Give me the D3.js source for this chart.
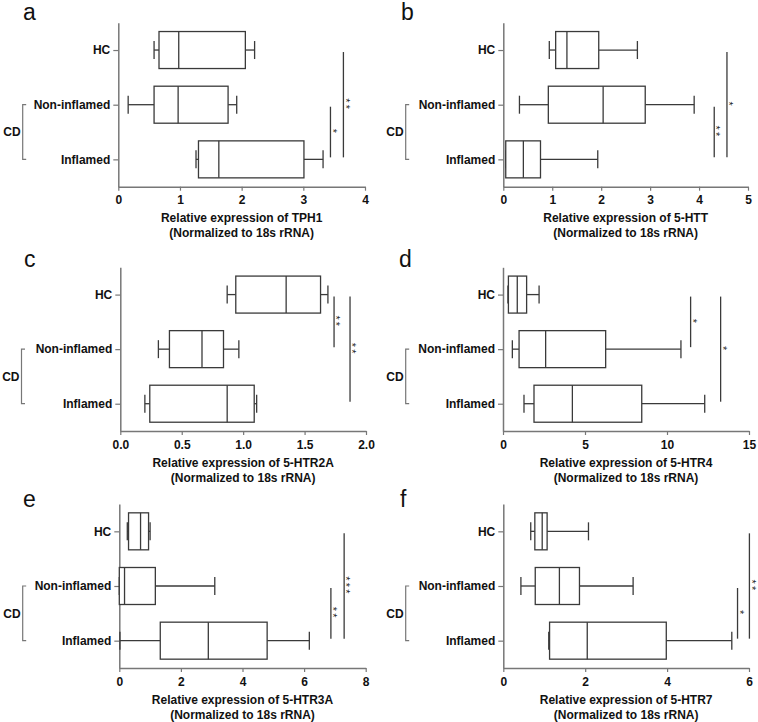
<!DOCTYPE html>
<html>
<head>
<meta charset="utf-8">
<script src="https://cdn.jsdelivr.net/npm/d3@7"></script>
<style>
  html, body { margin: 0; padding: 0; background: #fff; }
  svg { display: block; font-family: "Liberation Sans", Arial, sans-serif; }
</style>
</head>
<body>
<script>
// ---------------- DATA ----------------
const categories = ["HC", "Non-inflamed", "Inflamed"];
const panelLetters = ["a", "b", "c", "d", "e", "f"];
const genes = ["TPH1", "5-HTT", "5-HTR2A", "5-HTR4", "5-HTR3A", "5-HTR7"];
const xMax = [4, 5, 2, 15, 8, 6];
const xTickValues = [
  [0, 1, 2, 3, 4],
  [0, 1, 2, 3, 4, 5],
  [0, 0.5, 1.0, 1.5, 2.0],
  [0, 5, 10, 15],
  [0, 2, 4, 6, 8],
  [0, 2, 4, 6]
];
const xTickFormats = ["d", "d", ".1f", "d", "d", "d"];

// box stats per group: [min, Q1, median, Q3, max]  (HC, Non-inflamed, Inflamed)
const statsTPH1   = [[0.58, 0.66, 0.98, 2.06, 2.21], [0.16, 0.58, 0.97, 1.78, 1.92], [1.26, 1.30, 1.63, 3.01, 3.32]];
const statsHTT    = [[0.94, 1.07, 1.30, 1.95, 2.74], [0.33, 0.92, 2.04, 2.90, 3.90], [0.05, 0.05, 0.41, 0.76, 1.93]];
const statsHTR2A  = [[0.87, 0.94, 1.35, 1.63, 1.69], [0.31, 0.40, 0.665, 0.84, 0.965], [0.20, 0.24, 0.87, 1.09, 1.11]];
const statsHTR4   = [[0.30, 0.33, 0.87, 1.44, 2.20], [0.57, 0.98, 2.60, 6.26, 10.85], [1.28, 1.89, 4.23, 8.46, 12.30]];
const statsHTR3A  = [[0.26, 0.30, 0.69, 0.95, 1.00], [0.00, 0.00, 0.17, 1.17, 3.10], [0.02, 1.33, 2.89, 4.80, 6.17]];
const statsHTR7   = [[0.67, 0.77, 0.95, 1.07, 2.08], [0.43, 0.78, 1.37, 1.86, 3.17], [1.11, 1.13, 2.05, 3.98, 5.58]];
const allStats = [statsTPH1, statsHTT, statsHTR2A, statsHTR4, statsHTR3A, statsHTR7];

// significance brackets: x value, from group, to group, label
const sigTPH1  = [{x: 3.44, from: "Non-inflamed", to: "Inflamed", label: "*"},  {x: 3.65, from: "HC", to: "Inflamed", label: "**"}];
const sigHTT   = [{x: 4.31, from: "Non-inflamed", to: "Inflamed", label: "**"}, {x: 4.57, from: "HC", to: "Inflamed", label: "*"}];
const sigHTR2A = [{x: 1.74, from: "HC", to: "Non-inflamed", label: "**"},       {x: 1.87, from: "HC", to: "Inflamed", label: "**"}];
const sigHTR4  = [{x: 11.44, from: "HC", to: "Non-inflamed", label: "*"},       {x: 13.27, from: "HC", to: "Inflamed", label: "*"}];
const sigHTR3A = [{x: 6.87, from: "Non-inflamed", to: "Inflamed", label: "**"}, {x: 7.30, from: "HC", to: "Inflamed", label: "***"}];
const sigHTR7  = [{x: 5.72, from: "Non-inflamed", to: "Inflamed", label: "*"},  {x: 6.01, from: "HC", to: "Inflamed", label: "**"}];
const allSig = [sigTPH1, sigHTT, sigHTR2A, sigHTR4, sigHTR3A, sigHTR7];

const groupLabel = "CD";
const xLabelLine2 = "(Normalized to 18s rRNA)";

// ---------------- LAYOUT ----------------
const layout = [
  {x0: 118.3, x1: 365.0, y0: 22.7,  y1: 186.7, lx: 23,  ly: 20,  bx: 22.7},
  {x0: 503.3, x1: 748.0, y0: 22.7,  y1: 186.7, lx: 401, ly: 20,  bx: 405.7},
  {x0: 120.3, x1: 366.0, y0: 267.3, y1: 431.0, lx: 24,  ly: 267, bx: 21.5},
  {x0: 503.0, x1: 749.0, y0: 267.3, y1: 431.0, lx: 399, ly: 267, bx: 405.7},
  {x0: 119.3, x1: 365.7, y0: 504.0, y1: 668.0, lx: 23,  ly: 507, bx: 22.7},
  {x0: 503.3, x1: 749.0, y0: 504.0, y1: 668.0, lx: 400, ly: 507, bx: 405.7}
];

const W = 758, H = 722;
const svg = d3.select("body").append("svg").attr("width", W).attr("height", H);

const boxStroke = "#3a3a3a";
const axisStroke = "#777";
const halfBox = 18.5, halfCap = 9;

layout.forEach((L, i) => {
  const g = svg.append("g");
  const x = d3.scaleLinear().domain([0, xMax[i]]).range([L.x0, L.x1]);
  const y = d3.scalePoint().domain(categories).range([L.y0, L.y1]).padding(0.5);

  // panel letter
  g.append("text").attr("x", L.lx).attr("y", L.ly)
    .attr("font-size", 23).attr("fill", "#111").text(panelLetters[i]);

  // x axis
  const xa = g.append("g").attr("transform", `translate(0,${L.y1})`)
    .call(d3.axisBottom(x).tickValues(xTickValues[i]).tickFormat(d3.format(xTickFormats[i]))
      .tickSize(4).tickSizeOuter(0).tickPadding(5));
  xa.select(".domain").attr("stroke", axisStroke).attr("stroke-width", 1.5);
  xa.selectAll(".tick line").attr("stroke", axisStroke).attr("stroke-width", 1.2);
  xa.selectAll(".tick text").attr("font-size", 12).attr("font-weight", "bold")
    .attr("fill", "#111").attr("font-family", "Liberation Sans, Arial, sans-serif");

  // y axis
  const ya = g.append("g").attr("transform", `translate(${L.x0},0)`)
    .call(d3.axisLeft(y).tickSize(5).tickSizeOuter(0).tickPadding(3));
  ya.select(".domain").attr("stroke", axisStroke).attr("stroke-width", 1.5);
  ya.selectAll(".tick line").attr("stroke", axisStroke).attr("stroke-width", 1.2);
  ya.selectAll(".tick text").attr("font-size", 12).attr("font-weight", "bold")
    .attr("fill", "#111").attr("font-family", "Liberation Sans, Arial, sans-serif");

  // x label
  const xc = (L.x0 + L.x1) / 2;
  g.append("text").attr("x", xc).attr("y", L.y1 + 35.5).attr("text-anchor", "middle")
    .attr("font-size", 12).attr("font-weight", "bold").attr("fill", "#111")
    .text("Relative expression of " + genes[i]);
  g.append("text").attr("x", xc).attr("y", L.y1 + 50.5).attr("text-anchor", "middle")
    .attr("font-size", 12).attr("font-weight", "bold").attr("fill", "#111")
    .text(xLabelLine2);

  // CD bracket
  const yNI = y("Non-inflamed"), yIn = y("Inflamed");
  g.append("path")
    .attr("d", `M${L.bx + 3.5},${yNI} H${L.bx} V${yIn} H${L.bx + 3.5}`)
    .attr("fill", "none").attr("stroke", axisStroke).attr("stroke-width", 1.2);
  g.append("text").attr("x", L.bx - 2).attr("y", (yNI + yIn) / 2 + 4.3)
    .attr("text-anchor", "end").attr("font-size", 12).attr("font-weight", "bold")
    .attr("fill", "#111").text(groupLabel);

  // boxes
  categories.forEach((c, k) => {
    const [mn, q1, md, q3, mx] = allStats[i][k];
    const cy = y(c);
    const bg = g.append("g").attr("stroke", boxStroke).attr("stroke-width", 1.3).attr("fill", "none");
    bg.append("line").attr("x1", x(mn)).attr("x2", x(q1)).attr("y1", cy).attr("y2", cy);
    bg.append("line").attr("x1", x(q3)).attr("x2", x(mx)).attr("y1", cy).attr("y2", cy);
    bg.append("line").attr("x1", x(mn)).attr("x2", x(mn)).attr("y1", cy - halfCap).attr("y2", cy + halfCap);
    bg.append("line").attr("x1", x(mx)).attr("x2", x(mx)).attr("y1", cy - halfCap).attr("y2", cy + halfCap);
    bg.append("rect").attr("x", x(q1)).attr("y", cy - halfBox)
      .attr("width", Math.max(0, x(q3) - x(q1))).attr("height", 2 * halfBox).attr("fill", "#fff");
    bg.append("line").attr("x1", x(md)).attr("x2", x(md)).attr("y1", cy - halfBox).attr("y2", cy + halfBox);
  });

  // significance
  allSig[i].forEach(s => {
    const sx = x(s.x);
    const ya1 = y(s.from) + 2, ya2 = y(s.to) - 2;
    g.append("line").attr("x1", sx).attr("x2", sx).attr("y1", ya1).attr("y2", ya2)
      .attr("stroke", boxStroke).attr("stroke-width", 1.3);
    const mid = (ya1 + ya2) / 2;
    // stars stacked vertically: one rotated text
    g.append("text")
      .attr("transform", `translate(${sx - 1.8},${mid}) rotate(90)`)
      .attr("text-anchor", "middle")
      .attr("font-size", 11).attr("letter-spacing", 2.2)
      .attr("fill", "#222")
      .text(s.label);
  });
});
</script>
</body>
</html>
